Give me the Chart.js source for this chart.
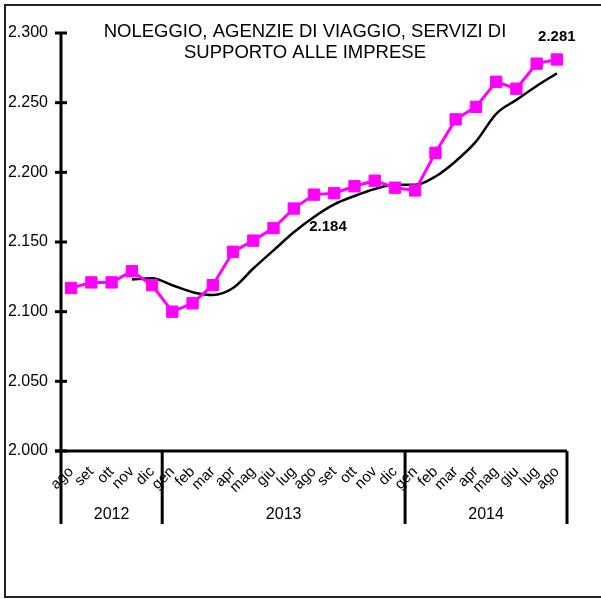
<!DOCTYPE html>
<html>
<head>
<meta charset="utf-8">
<script src="https://cdn.jsdelivr.net/npm/chart.js@4/dist/chart.umd.min.js"></script>
<style>
  html, body { margin: 0; padding: 0; background: #fff; }
  canvas { display: block; }
</style>
</head>
<body>
<canvas id="c" width="601" height="599"></canvas>
<script>
// ---- data ----
const titleLines = ['NOLEGGIO, AGENZIE DI VIAGGIO, SERVIZI DI', 'SUPPORTO ALLE IMPRESE'];
const months = ['ago','set','ott','nov','dic','gen','feb','mar','apr','mag','giu','lug','ago','set','ott','nov','dic','gen','feb','mar','apr','mag','giu','lug','ago'];
const years = ['2012', '2013', '2014'];
const yearCounts = [5, 12, 8];
const values = [2.117, 2.121, 2.121, 2.129, 2.119, 2.100, 2.106, 2.119, 2.143, 2.151, 2.160, 2.174, 2.184, 2.185, 2.190, 2.194, 2.189, 2.187, 2.214, 2.238, 2.247, 2.265, 2.260, 2.278, 2.281];
const trend = [null, null, null, 2.123, 2.124, 2.119, 2.114, 2.112, 2.117, 2.131, 2.144, 2.157, 2.168, 2.177, 2.183, 2.188, 2.191, 2.191, 2.197, 2.208, 2.222, 2.242, 2.252, 2.262, 2.271];
const labelledPoints = [12, 24];
const yTicks = [2.000, 2.050, 2.100, 2.150, 2.200, 2.250, 2.300];

const FONT = '"Liberation Sans", Arial, sans-serif';

const decorPlugin = {
  id: 'decor',
  beforeDraw(chart) {
    const ctx = chart.ctx;
    ctx.save();
    ctx.fillStyle = '#fff';
    ctx.fillRect(0, 0, chart.width, chart.height);
    ctx.restore();
  },
  afterDraw(chart) {
    const ctx = chart.ctx;
    const ca = chart.chartArea;
    const xs = chart.scales.x, ys = chart.scales.y;
    ctx.save();
    // outer frame
    ctx.strokeStyle = '#222';
    ctx.lineWidth = 2;
    ctx.strokeRect(5, 5, 700, 592);

    ctx.strokeStyle = '#000';
    ctx.lineWidth = 3;
    ctx.lineCap = 'butt';
    // y axis
    ctx.beginPath();
    ctx.moveTo(ca.left, ys.getPixelForValue(yTicks[yTicks.length - 1]) - 1);
    ctx.lineTo(ca.left, ca.bottom);
    ctx.stroke();
    // y ticks crossing
    yTicks.forEach(v => {
      const y = ys.getPixelForValue(v);
      ctx.beginPath();
      ctx.moveTo(ca.left - 6, y);
      ctx.lineTo(ca.left + 6, y);
      ctx.stroke();
    });
    // x axis
    const half = (xs.getPixelForValue(1) - xs.getPixelForValue(0)) / 2;
    const xEnd = xs.getPixelForValue(months.length - 1) + half;
    ctx.beginPath();
    ctx.moveTo(ca.left - 6, ca.bottom);
    ctx.lineTo(xEnd, ca.bottom);
    ctx.stroke();
    // year separators & labels
    const sepBottom = ca.bottom + 73;
    let start = 0;
    const bounds = [xs.getPixelForValue(0) - half];
    yearCounts.forEach(n => { start += n; bounds.push(xs.getPixelForValue(start - 1) + half); });
    bounds.forEach(x => {
      ctx.beginPath();
      ctx.moveTo(x, ca.bottom);
      ctx.lineTo(x, sepBottom);
      ctx.stroke();
    });
    ctx.fillStyle = '#000';
    ctx.font = '16px ' + FONT;
    ctx.textAlign = 'center';
    ctx.textBaseline = 'middle';
    years.forEach((yr, i) => {
      ctx.fillText(yr, (bounds[i] + bounds[i + 1]) / 2, ca.bottom + 64);
    });

    // title
    ctx.font = '18.5px ' + FONT;
    titleLines.forEach((t, i) => {
      ctx.fillText(t, 305, 32 + i * 21);
    });

    // value labels
    ctx.font = 'bold 15px ' + FONT;
    labelledPoints.forEach(i => {
      const px = xs.getPixelForValue(i);
      const py = ys.getPixelForValue(values[i]);
      const txt = values[i].toFixed(3);
      if (i === months.length - 1) {
        ctx.fillText(txt, px, py - 23);
      } else {
        ctx.fillText(txt, px + 14, py + 32);
      }
    });
    ctx.restore();
  }
};

new Chart(document.getElementById('c'), {
  type: 'line',
  data: {
    labels: months,
    datasets: [
      {
        data: values,
        borderColor: '#ff00ff',
        backgroundColor: '#ff00ff',
        borderWidth: 3,
        pointStyle: 'rect',
        pointRadius: 8,
        pointBorderWidth: 1,
        pointBackgroundColor: '#ff00ff',
        pointBorderColor: '#ff00ff',
        tension: 0,
        order: 1
      },
      {
        data: trend,
        borderColor: '#000',
        borderWidth: 2.5,
        pointRadius: 0,
        cubicInterpolationMode: 'monotone',
        spanGaps: false,
        order: 2
      }
    ]
  },
  options: {
    responsive: false,
    animation: false,
    devicePixelRatio: 1,
    layout: { padding: { top: 33, right: 34, left: 0, bottom: 0 } },
    plugins: {
      legend: { display: false },
      tooltip: { enabled: false },
      title: { display: false }
    },
    scales: {
      x: {
        type: 'category',
        offset: true,
        grid: { display: false, drawTicks: false },
        border: { display: false },
        ticks: {
          autoSkip: false,
          minRotation: 45,
          maxRotation: 45,
          padding: 12,
          color: '#000',
          font: { size: 15, family: FONT }
        },
        afterFit(scale) { scale.height = 148; }
      },
      y: {
        min: 2.0,
        max: 2.3,
        grid: { display: false, drawTicks: false },
        border: { display: false },
        ticks: {
          stepSize: 0.05,
          padding: 13,
          color: '#000',
          font: { size: 16, family: FONT },
          callback: v => Number(v).toFixed(3)
        },
        afterFit(scale) { scale.width = 61; }
      }
    }
  },
  plugins: [decorPlugin]
});
</script>
</body>
</html>
